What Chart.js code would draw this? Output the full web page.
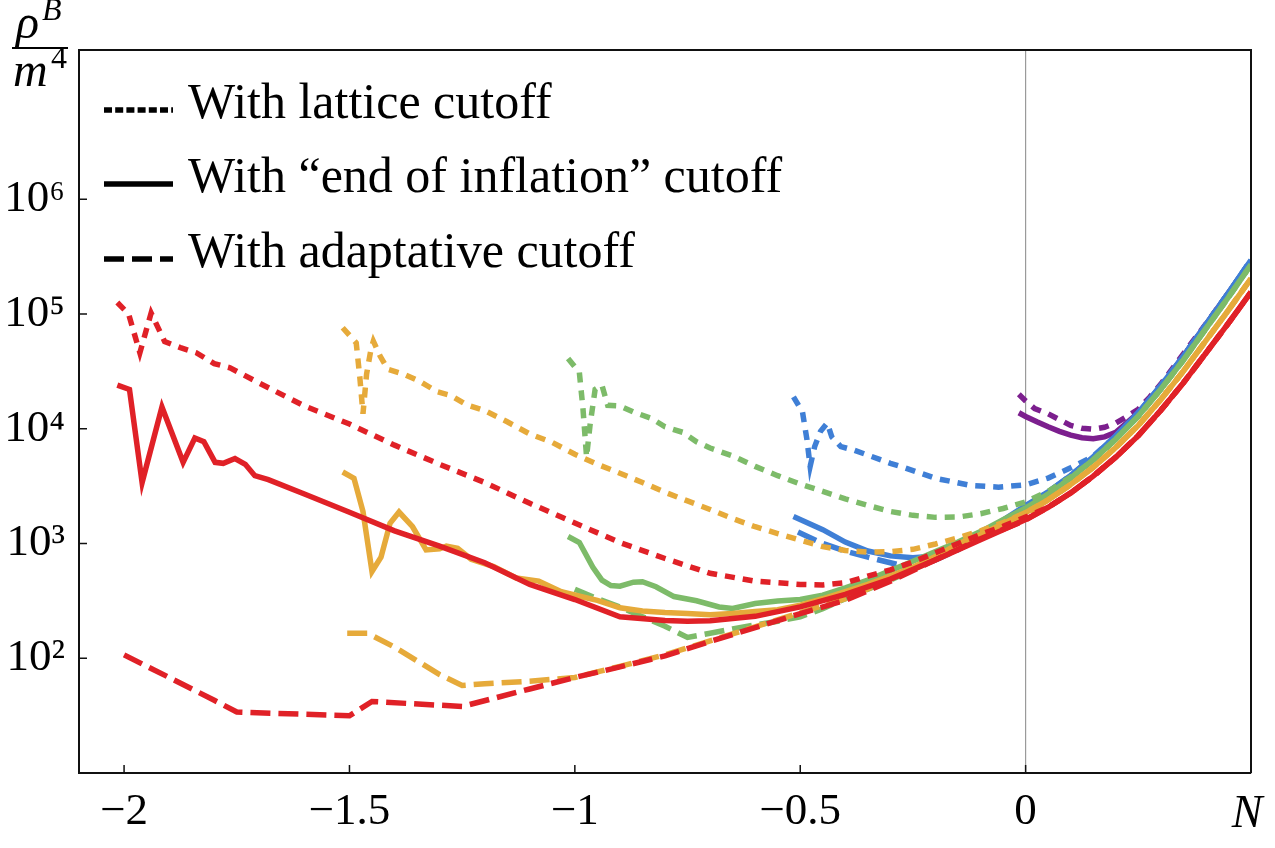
<!DOCTYPE html>
<html>
<head>
<meta charset="utf-8">
<script src="https://cdn.jsdelivr.net/npm/chart.js@4.4.1/dist/chart.umd.min.js"></script>
<style>
  html, body { margin: 0; padding: 0; background: #fff; }
  #wrap { width: 1275px; height: 848px; }
</style>
</head>
<body>
<div id="wrap"><canvas id="chart" width="1275" height="848"></canvas></div>
<script>
// rho^B / m^4 against N, log scale. Colours = starting point of the run,
// line style = cutoff type (dotted lattice, solid end of inflation, dashed adaptative)

const X_TICKS = [-2, -1.5, -1, -0.5, 0];
const Y_TICKS = [1e2, 1e3, 1e4, 1e5, 1e6];

// shared tail for N > 0, one per colour
const tailN = [0.05, 0.1, 0.15, 0.2, 0.25, 0.3, 0.35, 0.4, 0.45, 0.5];
const redTail = [2070, 2760, 3860, 5660, 8710, 14500, 25100, 45700, 83200, 155000];
const orangeTail = [2400, 3260, 4620, 6870, 10700, 18000, 31800, 58600, 108000, 204000];
const greenTail = [2690, 3710, 5360, 8110, 12900, 22100, 39600, 74500, 140000, 269000];
const blueTail = [2820, 3920, 5690, 8650, 13800, 23800, 42900, 80900, 153000, 295000];

// red, start at N = -2
const redLatticeN = [-2.015, -1.99, -1.965, -1.94, -1.91, -1.875, -1.84, -1.8, -1.765, -1.7, -1.6, -1.5, -1.4, -1.3, -1.2, -1.1, -1.0, -0.9, -0.8, -0.7, -0.6, -0.5, -0.45, -0.4, -0.35, -0.3, -0.25, -0.2, -0.15, -0.1, -0.05, 0];
const redLattice = [126000, 100000, 46000, 102000, 57500, 51000, 46000, 37000, 34000, 25000, 15800, 11000, 7200, 4900, 3400, 2240, 1510, 1020, 740, 550, 470, 440, 435, 455, 520, 590, 690, 830, 1000, 1200, 1410, 1700];
const redEndN = [-2.015, -1.988, -1.96, -1.916, -1.869, -1.843, -1.823, -1.798, -1.78, -1.754, -1.731, -1.71, -1.68, -1.6, -1.5, -1.4, -1.3, -1.2, -1.1, -1.0, -0.9, -0.8, -0.75, -0.7, -0.6, -0.5, -0.4, -0.3, -0.2, -0.1, -0.05, 0];
const redEnd = [24000, 22000, 3400, 15500, 5100, 8300, 7700, 5100, 5000, 5500, 4900, 3900, 3600, 2700, 1870, 1290, 950, 680, 440, 325, 230, 213, 210, 212, 232, 280, 360, 490, 720, 1080, 1320, 1620];
const redAdaptN = [-2.0, -1.9, -1.8, -1.75, -1.5, -1.45, -1.25, -1.1, -1.0, -0.9, -0.8, -0.7, -0.6, -0.5, -0.4, -0.3, -0.2, -0.1, 0];
const redAdapt = [107, 68, 43, 34, 31.5, 42, 38, 54, 68, 84, 105, 140, 185, 245, 320, 470, 720, 1100, 1600];

// orange, start at N = -1.5
const orangeLatticeN = [-1.515, -1.485, -1.477, -1.47, -1.462, -1.452, -1.447, -1.432, -1.415, -1.38, -1.345, -1.305, -1.275, -1.24, -1.2, -1.15, -1.1, -1.05, -1.0, -0.95, -0.9, -0.85, -0.8, -0.75, -0.7, -0.65, -0.6, -0.55, -0.5, -0.45, -0.4, -0.35, -0.3, -0.25, -0.2, -0.15, -0.1, -0.05, 0];
const orangeLattice = [76000, 56000, 28000, 13500, 30000, 50000, 58000, 43000, 33000, 30000, 26000, 21000, 19500, 16200, 14400, 11500, 9000, 7600, 6000, 4900, 4100, 3400, 2800, 2350, 1980, 1650, 1400, 1220, 1070, 940, 870, 840, 850, 890, 990, 1120, 1290, 1520, 1860];
const orangeEndN = [-1.515, -1.49, -1.47, -1.45, -1.43, -1.41, -1.39, -1.36, -1.33, -1.3, -1.285, -1.26, -1.23, -1.18, -1.13, -1.08, -1.03, -0.98, -0.95, -0.9, -0.85, -0.8, -0.75, -0.7, -0.65, -0.6, -0.55, -0.5, -0.45, -0.4, -0.35, -0.3, -0.25, -0.2, -0.15, -0.1, -0.05, 0];
const orangeEnd = [4200, 3700, 1900, 570, 760, 1500, 1880, 1400, 880, 900, 950, 910, 730, 630, 500, 470, 380, 340, 320, 275, 258, 250, 245, 240, 245, 255, 265, 290, 330, 380, 440, 520, 620, 770, 990, 1200, 1490, 1860];
const orangeAdaptN = [-1.505, -1.46, -1.4, -1.35, -1.3, -1.25, -1.2, -1.1, -1.0, -0.9, -0.8, -0.7, -0.6, -0.5, -0.4, -0.3, -0.2, -0.1, 0];
const orangeAdapt = [165, 165, 125, 95, 72, 58, 60, 63, 68, 85, 107, 142, 188, 250, 330, 490, 750, 1150, 1800];

// green, start at N = -1
const greenLatticeN = [-1.015, -0.99, -0.982, -0.974, -0.966, -0.955, -0.94, -0.927, -0.9, -0.87, -0.83, -0.8, -0.76, -0.73, -0.7, -0.65, -0.6, -0.55, -0.5, -0.45, -0.4, -0.35, -0.3, -0.25, -0.2, -0.15, -0.1, -0.05, 0, 0.05, 0.1];
const greenLattice = [41000, 31000, 15000, 5700, 11000, 22000, 24000, 16000, 15800, 14000, 12300, 10400, 9300, 7700, 6800, 5800, 4700, 3900, 3300, 2850, 2450, 2150, 1900, 1760, 1690, 1700, 1820, 2020, 2300, 2850, 3800];
const greenEndN = [-1.015, -0.99, -0.96, -0.94, -0.92, -0.9, -0.87, -0.85, -0.82, -0.78, -0.73, -0.68, -0.65, -0.6, -0.55, -0.5, -0.45, -0.4, -0.35, -0.3, -0.25, -0.2, -0.15, -0.1, -0.05, 0];
const greenEnd = [1150, 1020, 620, 480, 430, 425, 460, 465, 420, 345, 317, 280, 272, 300, 315, 325, 355, 410, 480, 580, 700, 850, 1030, 1270, 1610, 2040];
const greenAdaptN = [-1.0, -0.95, -0.9, -0.85, -0.8, -0.75, -0.7, -0.65, -0.6, -0.55, -0.5, -0.45, -0.4, -0.35, -0.3, -0.25, -0.2, -0.15, -0.1, -0.05, 0];
const greenAdapt = [400, 330, 280, 230, 190, 152, 165, 180, 195, 210, 230, 270, 330, 400, 480, 590, 740, 930, 1170, 1530, 2000];

// blue, start at N = -0.5
const blueLatticeN = [-0.515, -0.495, -0.485, -0.478, -0.468, -0.455, -0.44, -0.43, -0.41, -0.38, -0.34, -0.3, -0.27, -0.2, -0.12, -0.06, 0, 0.05, 0.1, 0.15];
const blueLattice = [19000, 14000, 8000, 4700, 7000, 9500, 11200, 8500, 7000, 6500, 5700, 5000, 4600, 3700, 3200, 3100, 3240, 3720, 4570, 5750];
const blueEndN = [-0.515, -0.45, -0.4, -0.35, -0.3, -0.25, -0.2, -0.15, -0.1, -0.05, 0];
const blueEnd = [1720, 1320, 1030, 860, 780, 750, 780, 920, 1200, 1600, 2140];
const blueAdaptN = [-0.505, -0.45, -0.4, -0.35, -0.3, -0.25, -0.2, -0.15, -0.1, -0.05, 0];
const blueAdapt = [1260, 1000, 860, 760, 680, 610, 720, 880, 1150, 1560, 2100];

// purple, start at N = 0
const purpleLatticeN = [-0.015, 0, 0.02, 0.05, 0.075, 0.1, 0.125, 0.15, 0.175, 0.2, 0.225, 0.25, 0.275, 0.3, 0.35, 0.4, 0.45, 0.5];
const purpleLattice = [20000, 17500, 15000, 13500, 12000, 10700, 10100, 9900, 10300, 11200, 12800, 14800, 18800, 24500, 45000, 82000, 152000, 290000];
const purpleEndN = [-0.015, 0, 0.025, 0.05, 0.075, 0.1, 0.125, 0.15, 0.175, 0.2, 0.225, 0.25, 0.3, 0.35, 0.4, 0.45, 0.5];
const purpleEnd = [13800, 12800, 11500, 10400, 9500, 8800, 8350, 8200, 8500, 9300, 11300, 13800, 23100, 42900, 80900, 153000, 290000];

const RED = '#e02127';
const ORANGE = '#e6aa3a';
const GREEN = '#7dbb69';
const BLUE = '#3f7fd6';
const PURPLE = '#7c1f8e';

const DOTTED = [10, 8];
const SOLID = [];
const DASHED = [20, 8];

function points(ns, rhos, tail) {
    const pts = ns.map((n, i) => ({ x: n, y: rhos[i] }));
    if (tail) {
        const last = ns[ns.length - 1];
        tailN.forEach((n, i) => {
            if (n > last + 1e-9) pts.push({ x: n, y: tail[i] });
        });
    }
    return pts;
}

function curve(color, dash, data) {
    return {
        data: data,
        borderColor: color,
        borderWidth: 5.5,
        borderDash: dash,
        borderCapStyle: 'butt',
        borderJoinStyle: 'miter',
        pointRadius: 0,
        fill: false,
        tension: 0
    };
}

// first dataset ends up on top
const datasets = [
    curve(RED, SOLID, points(redEndN, redEnd, redTail)),
    curve(RED, DASHED, points(redAdaptN, redAdapt, redTail)),
    curve(RED, DOTTED, points(redLatticeN, redLattice, redTail)),
    curve(ORANGE, SOLID, points(orangeEndN, orangeEnd, orangeTail)),
    curve(ORANGE, DASHED, points(orangeAdaptN, orangeAdapt, orangeTail)),
    curve(ORANGE, DOTTED, points(orangeLatticeN, orangeLattice, orangeTail)),
    curve(GREEN, SOLID, points(greenEndN, greenEnd, greenTail)),
    curve(GREEN, DASHED, points(greenAdaptN, greenAdapt, greenTail)),
    curve(GREEN, DOTTED, points(greenLatticeN, greenLattice, greenTail)),
    curve(BLUE, SOLID, points(blueEndN, blueEnd, blueTail)),
    curve(BLUE, DASHED, points(blueAdaptN, blueAdapt, blueTail)),
    curve(BLUE, DOTTED, points(blueLatticeN, blueLattice, blueTail)),
    curve(PURPLE, SOLID, points(purpleEndN, purpleEnd)),
    curve(PURPLE, DOTTED, points(purpleLatticeN, purpleLattice))
];

const SERIF = '"Liberation Serif", "Times New Roman", serif';
const SUP = { 2: '\u00b2', 3: '\u00b3', 4: '\u2074', 5: '\u2075', 6: '\u2076' };

/**
 * frame, inner ticks, legend and axis labels
 */
const decorPlugin = {
    id: 'decor',
    afterDraw(chart) {
        const ctx = chart.ctx;
        const area = chart.chartArea;
        const xs = chart.scales.x;
        const ys = chart.scales.y;

        ctx.save();
        ctx.strokeStyle = '#111';
        ctx.lineWidth = 2;
        ctx.beginPath();
        ctx.moveTo(area.left, area.top);
        ctx.lineTo(area.right, area.top);
        ctx.lineTo(area.right, area.bottom);
        ctx.stroke();

        // ticks point inward
        ctx.lineWidth = 1.5;
        ctx.beginPath();
        X_TICKS.forEach(v => {
            const px = xs.getPixelForValue(v);
            ctx.moveTo(px, area.bottom);
            ctx.lineTo(px, area.bottom - 8);
        });
        Y_TICKS.forEach(v => {
            const py = ys.getPixelForValue(v);
            ctx.moveTo(area.left, py);
            ctx.lineTo(area.left + 8, py);
        });
        ctx.stroke();

        // legend
        const rows = [
            { y: 110, dash: [8, 3.2], text: 'With lattice cutoff' },
            { y: 184, dash: [], text: 'With \u201cend of inflation\u201d cutoff' },
            { y: 259, dash: [20, 8], text: 'With adaptative cutoff' }
        ];
        ctx.strokeStyle = '#000';
        ctx.fillStyle = '#000';
        ctx.lineWidth = 5.5;
        ctx.lineCap = 'butt';
        ctx.font = '50px ' + SERIF;
        ctx.textBaseline = 'alphabetic';
        ctx.textAlign = 'left';
        rows.forEach(r => {
            ctx.setLineDash(r.dash);
            ctx.beginPath();
            ctx.moveTo(104, r.y);
            ctx.lineTo(173, r.y);
            ctx.stroke();
            ctx.fillText(r.text, 188, r.y + 8);
        });
        ctx.setLineDash([]);

        // y label: rho^B over m^4
        ctx.font = 'italic 48px ' + SERIF;
        ctx.fillText('\u03c1', 16, 38);
        ctx.font = 'italic 32px ' + SERIF;
        ctx.fillText('B', 42, 20);
        ctx.fillRect(12, 47, 56, 2);
        ctx.font = 'italic 48px ' + SERIF;
        ctx.fillText('m', 13, 86);
        ctx.font = '32px ' + SERIF;
        ctx.fillText('4', 51, 68);

        // N at the end of the axis
        ctx.font = 'italic 46px ' + SERIF;
        ctx.textAlign = 'center';
        ctx.fillText('N', xs.getPixelForValue(0.5) - 4, 827);
        ctx.restore();
    }
};

Chart.defaults.font.family = SERIF;
Chart.defaults.color = '#000';

new Chart(document.getElementById('chart'), {
    type: 'line',
    data: { datasets: datasets },
    options: {
        responsive: false,
        devicePixelRatio: 1,
        animation: false,
        layout: { padding: { top: 50, right: 24, left: 0, bottom: 0 } },
        plugins: {
            legend: { display: false },
            tooltip: { enabled: false }
        },
        scales: {
            x: {
                type: 'linear',
                min: -2.1,
                max: 0.5,
                afterBuildTicks: scale => {
                    scale.ticks = X_TICKS.map(v => ({ value: v }));
                },
                afterFit: scale => { scale.height = 75; },
                ticks: {
                    font: { size: 45 },
                    padding: 12,
                    maxRotation: 0,
                    callback: v => (v < 0 ? '\u2212' + Math.abs(v) : String(v))
                },
                grid: {
                    drawTicks: false,
                    lineWidth: 1.2,
                    color: c => (c.tick && c.tick.value === 0 ? '#9a9a9a' : 'rgba(0,0,0,0)')
                },
                border: { display: true, color: '#111', width: 2 }
            },
            y: {
                type: 'logarithmic',
                min: 10,
                max: 2e7,
                afterBuildTicks: scale => {
                    scale.ticks = Y_TICKS.map(v => ({ value: v }));
                },
                afterFit: scale => { scale.width = 79; },
                ticks: {
                    font: { size: 45 },
                    padding: 14,
                    callback: v => '10' + SUP[Math.round(Math.log10(v))]
                },
                grid: { display: false, drawTicks: false },
                border: { display: true, color: '#111', width: 2 }
            }
        }
    },
    plugins: [decorPlugin]
});
</script>
</body>
</html>
